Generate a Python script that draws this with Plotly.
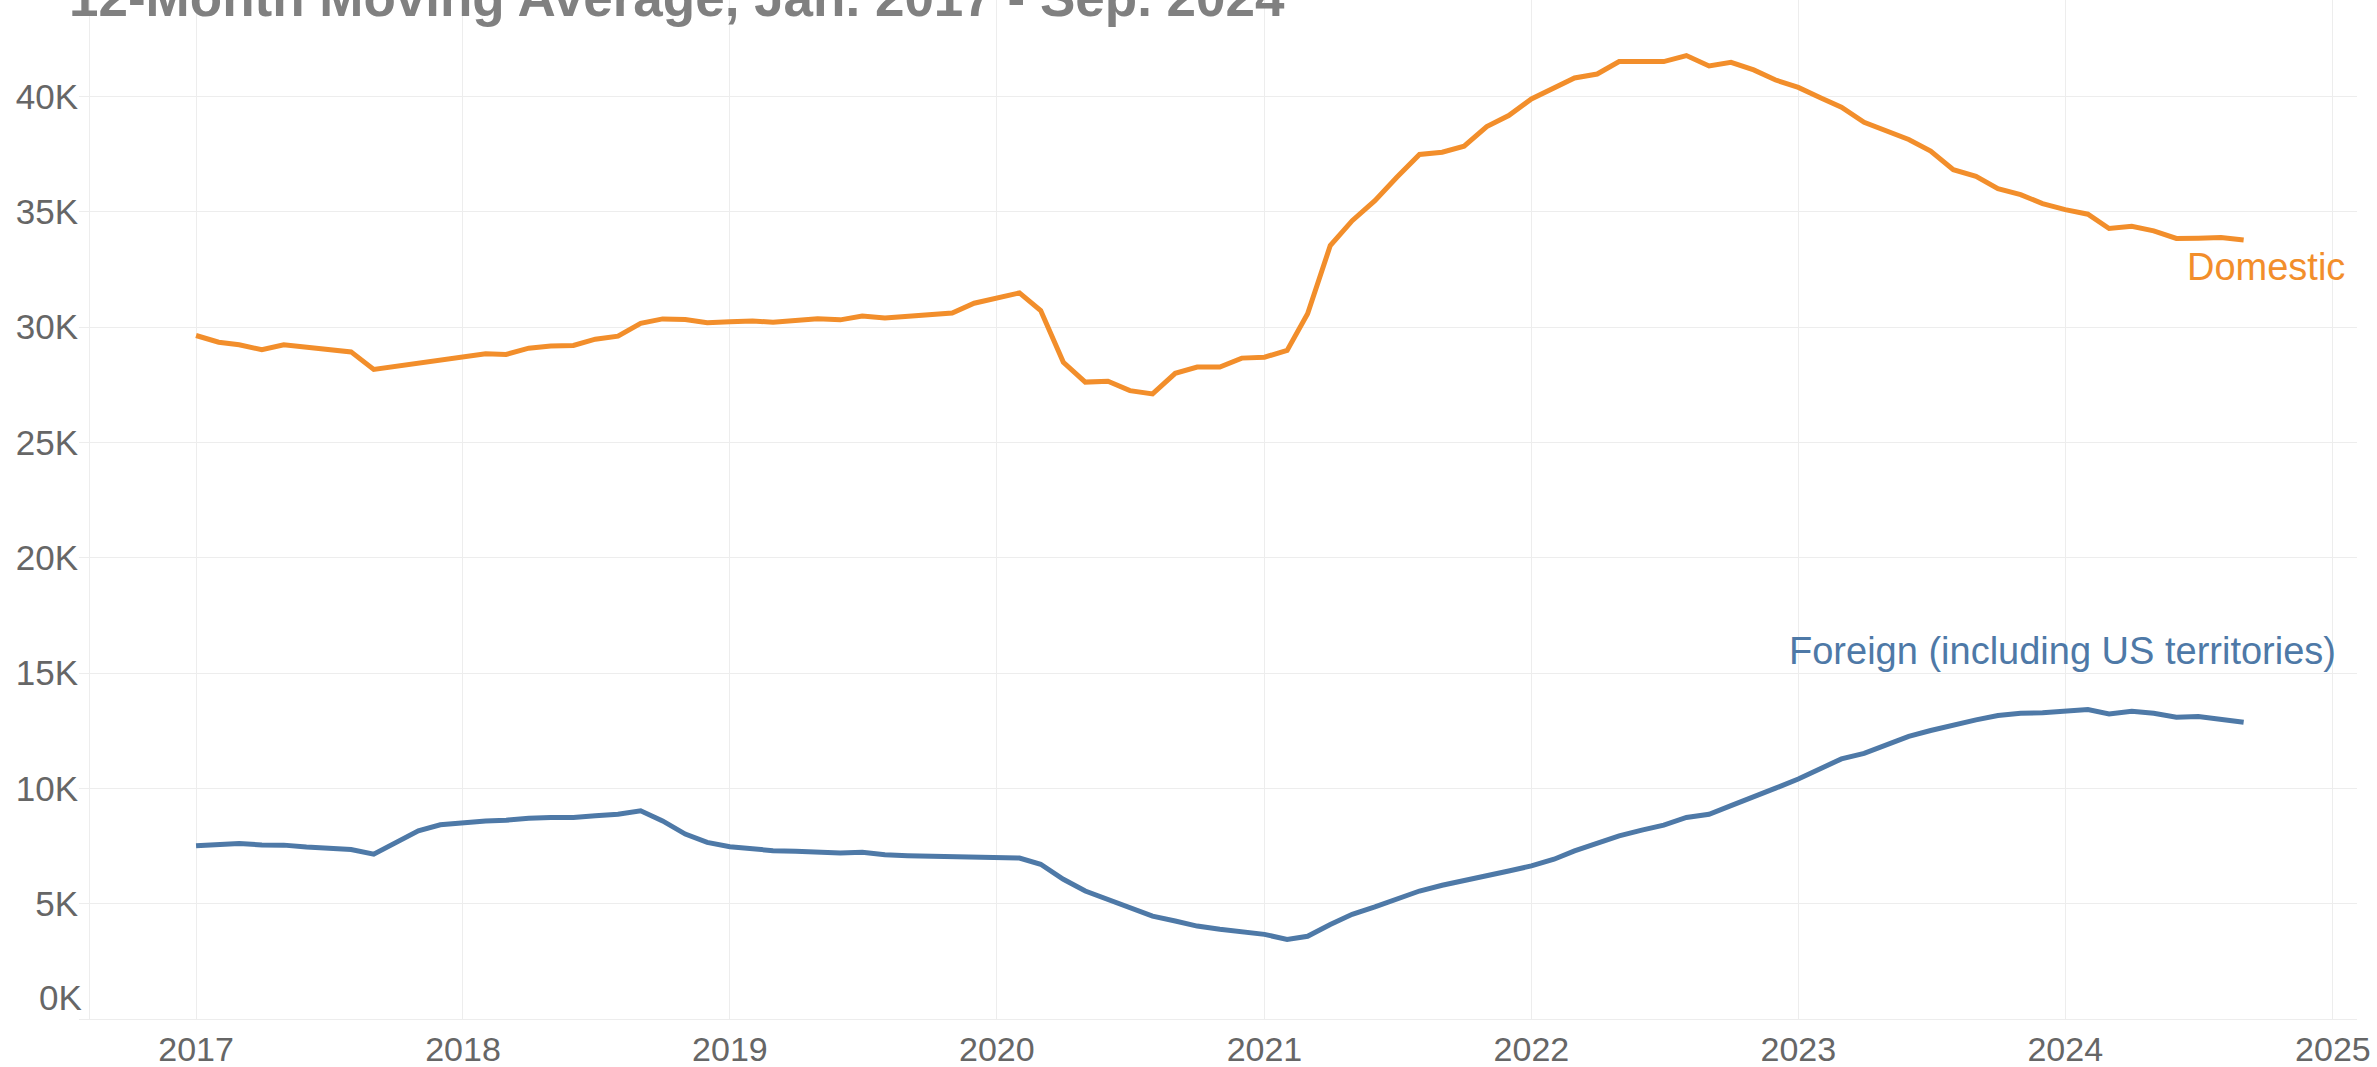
import pandas as pd
import plotly.graph_objects as go

# monthly points, Jan 2017 - Sep 2024 (12-month moving average, thousands)
months = pd.date_range("2017-01-01", "2024-09-01", freq="MS")

domestic_k = [
    29.64, 29.35, 29.24, 29.02, 29.24, 29.14, 29.04, 28.93, 28.17, 28.30, 28.41, 28.53,
    28.70, 28.85, 28.82, 29.09, 29.19, 29.21, 29.48, 29.61, 30.17, 30.36, 30.33, 30.19,
    30.24, 30.27, 30.22, 30.32, 30.37, 30.32, 30.49, 30.40, 30.49, 30.56, 30.62, 31.04,
    31.25, 31.49, 30.72, 28.48, 27.62, 27.66, 27.25, 27.11, 28.00, 28.27, 28.27, 28.66,
    28.70, 28.99, 30.58, 33.54, 34.62, 35.49, 36.50, 37.49, 37.59, 37.85, 38.70, 39.18,
    39.90, 40.38, 40.81, 40.98, 41.52, 41.52, 41.52, 41.78, 41.33, 41.49, 41.16, 40.72,
    40.40, 39.94, 39.54, 38.89, 38.53, 38.14, 37.64, 36.83, 36.54, 36.01, 35.75, 35.36,
    35.10, 34.90, 34.28, 34.38, 34.18, 33.85, 33.86, 33.89, 33.78,
]

foreign_k = [
    7.51, 7.55, 7.61, 7.55, 7.54, 7.46, 7.41, 7.35, 7.15, 7.66, 8.16, 8.42,
    8.52, 8.59, 8.62, 8.71, 8.74, 8.74, 8.81, 8.88, 9.03, 8.59, 8.02, 7.66,
    7.47, 7.37, 7.30, 7.27, 7.23, 7.20, 7.23, 7.12, 7.08, 7.05, 7.02, 6.99,
    6.98, 6.98, 6.71, 6.06, 5.55, 5.19, 4.80, 4.46, 4.25, 4.03, 3.89, 3.80,
    3.67, 3.45, 3.59, 4.10, 4.54, 4.86, 5.19, 5.55, 5.80, 5.99, 6.20, 6.42,
    6.64, 6.93, 7.29, 7.61, 7.94, 8.19, 8.41, 8.74, 8.88, 9.25, 9.61, 10.01,
    10.41, 10.84, 11.28, 11.52, 11.86, 12.26, 12.51, 12.75, 12.97, 13.16, 13.26, 13.28,
    13.35, 13.42, 13.23, 13.35, 13.26, 13.09, 13.12, 12.99, 12.87,
]

y_ticks = [0, 5000, 10000, 15000, 20000, 25000, 30000, 35000, 40000]
y_tick_labels = ["", "5K", "10K", "15K", "20K", "25K", "30K", "35K", "40K"]
x_ticks = [f"{y}-01-01" for y in range(2017, 2026)]
x_tick_labels = [str(y) for y in range(2017, 2026)]

title = "12-Month Moving Average, Jan. 2017 - Sep. 2024"

ORANGE = "#F28E2B"
BLUE = "#4E79A7"
GRID = "#ededed"
TICK_GREY = "#666666"
FONT = "Liberation Sans, Arial, sans-serif"

df = pd.DataFrame({
    "month": months,
    "domestic": [v * 1000 for v in domestic_k],
    "foreign": [v * 1000 for v in foreign_k],
})

fig = go.Figure()
fig.add_trace(go.Scatter(x=df["month"], y=df["domestic"], mode="lines",
                         line=dict(color=ORANGE, width=5), name="Domestic"))
fig.add_trace(go.Scatter(x=df["month"], y=df["foreign"], mode="lines",
                         line=dict(color=BLUE, width=5),
                         name="Foreign (including US territories)"))

# line labels (Tableau style, right aligned near the line ends)
fig.add_annotation(text="Domestic", xref="paper", yref="y", x=0.9955, y=32600,
                   xanchor="right", yanchor="middle", showarrow=False,
                   font=dict(family=FONT, size=38, color=ORANGE))
fig.add_annotation(text="Foreign (including US territories)", xref="paper", yref="y",
                   x=0.9915, y=15950, xanchor="right", yanchor="middle", showarrow=False,
                   font=dict(family=FONT, size=38, color=BLUE))

# 0K label sits a bit above the baseline, like the original
fig.add_annotation(text="0K", xref="paper", yref="y", x=0, y=0, xshift=-6, yshift=22,
                   xanchor="right", yanchor="middle", showarrow=False,
                   font=dict(family=FONT, size=35, color=TICK_GREY))

# title, partially cut at the top of the image
fig.add_annotation(text="<b>" + title + "</b>", xref="paper", yref="paper",
                   x=-0.0103, y=0.972, xanchor="left", yanchor="bottom", showarrow=False,
                   font=dict(family=FONT, size=53, color="#808080"))

fig.update_layout(
    width=2377, height=1067,
    margin=dict(l=90, r=20, t=0, b=48),
    paper_bgcolor="white", plot_bgcolor="white",
    showlegend=False,
    font=dict(family=FONT, color=TICK_GREY),
)
fig.update_xaxes(
    range=["2016-08-09", "2025-02-03"],
    tickvals=x_ticks, ticktext=x_tick_labels,
    tickfont=dict(size=34, color=TICK_GREY),
    showgrid=True, gridcolor=GRID, gridwidth=1,
    zeroline=False, showline=True, linecolor=GRID, linewidth=1,
    ticks="", automargin=False,
)
fig.update_yaxes(
    range=[0, 44190],
    tickvals=y_ticks, ticktext=y_tick_labels,
    tickfont=dict(size=35, color=TICK_GREY),
    showgrid=True, gridcolor=GRID, gridwidth=1,
    zeroline=False, showline=True, linecolor=GRID, linewidth=1,
    ticks="outside", ticklen=10, tickcolor=GRID, ticklabelstandoff=-6,
    automargin=False,
)

# drop the default body margin so the figure sits at the window's top-left corner
fig.write_html("out.html", config={"displayModeBar": False},
               post_script="document.body.style.margin='0px';")
